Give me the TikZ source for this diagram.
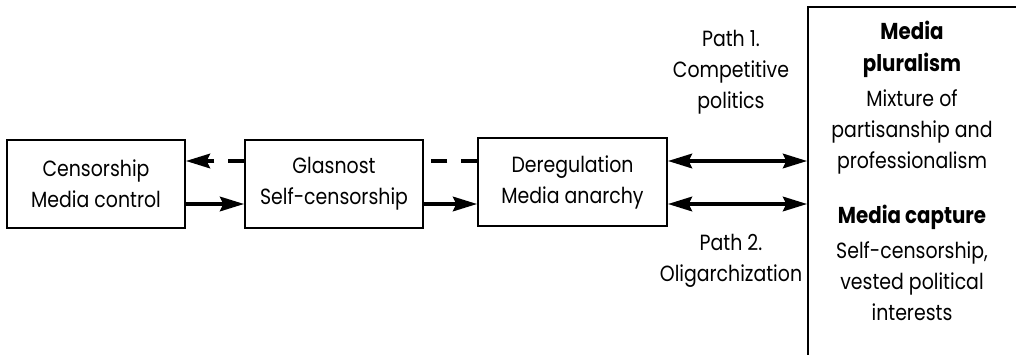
\documentclass[tikz,border=0pt]{standalone}
\usepackage{fontspec}
\setmainfont{Poppins}[FakeStretch=0.86]
\usetikzlibrary{arrows.meta, positioning, calc}
\tikzset{
  stage_box/.style={rectangle, draw=black, line width=0.6pt, minimum height=44pt, align=center, inner sep=0pt, font=\fontsize{11}{15.5}\selectfont},
  outcome_box/.style={rectangle, draw=black, line width=0.6pt, minimum width=111pt, minimum height=184pt, inner sep=0pt},
  path_text/.style={align=center, font=\fontsize{11}{15.5}\selectfont},
  head_text/.style={align=center, font=\fontsize{11.5}{16}\selectfont\bfseries},
  body_text/.style={align=center, font=\fontsize{11}{15.5}\selectfont},
  arrow/.style={-{Stealth[length=12pt, width=7pt, inset=1.5pt]}, line width=2.4pt, black},
  both_arrow/.style={{Stealth[length=12pt, width=7pt, inset=1.5pt]}-{Stealth[length=12pt, width=7pt, inset=1.5pt]}, line width=2.4pt, black},
  back_dash/.style={line width=2.4pt, black, dash pattern=on 8pt off 7pt}
}

\begin{document}
\begin{tikzpicture}[x=0.5pt, y=-0.5pt]

  % --- Canvas ---
  \useasboundingbox (0,0) rectangle (1016,354);

  % --- Geometry ---
  \def\yUp{161}
  \def\yLow{204}
  \def\xPath{731}
  \def\xOut{912}

  \coordinate (upper) at (0,\yUp);
  \coordinate (lower) at (0,\yLow);

  % --- Stages ---
  \node[stage_box, minimum width=89pt] (censor) at (96,184) {Censorship\\Media control};
  \node[stage_box, minimum width=89pt] (glasnost) at (334,184) {Glasnost\\Self-censorship};
  \node[stage_box, minimum width=94.5pt] (dereg) at (572.5,182) {Deregulation\\Media anarchy};

  % --- Outcome box (runs off the page) ---
  \node[outcome_box] (outcome) at (919,191) {};

  \node[head_text] (plural) at (\xOut,49) {Media\\pluralism};
  \node[body_text, below=-1pt of plural] (mixture) {Mixture of\\partisanship and\\professionalism};
  \node[head_text] (capture) at (\xOut,217) {Media capture};
  \node[body_text, below=-1pt of capture] (vested) {Self-censorship,\\vested political\\interests};

  % --- Path labels ---
  \node[path_text] (path_one) at (\xPath,72) {Path 1.\\Competitive\\politics};
  \node[path_text] (path_two) at (\xPath,261) {Path 2.\\Oligarchization};

  % --- Forward arrows ---
  \draw[arrow] (censor.east |- lower) -- (glasnost.west |- lower);
  \draw[arrow] (glasnost.east |- lower) -- (dereg.west |- lower);

  % --- Backward (dashed) ---
  \draw[back_dash] (dereg.west |- upper) -- (glasnost.east |- upper);
  \draw[back_dash, arrow] (glasnost.west |- upper) -- (censor.east |- upper);

  % --- Paths to outcomes ---
  \draw[both_arrow] (dereg.east |- upper) -- (outcome.west |- upper);
  \draw[both_arrow] (dereg.east |- lower) -- (outcome.west |- lower);

\end{tikzpicture}
\end{document}
